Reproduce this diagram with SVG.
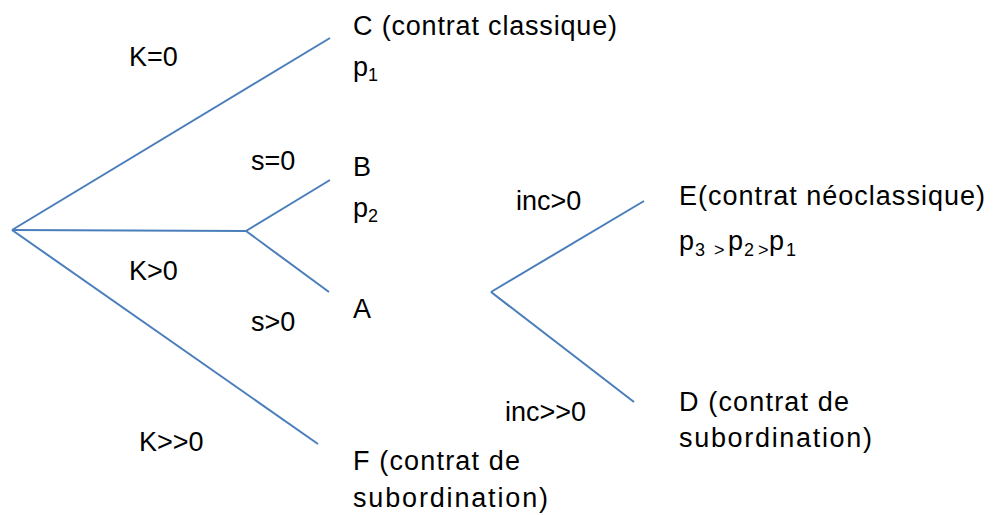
<svg xmlns="http://www.w3.org/2000/svg" width="995" height="515" viewBox="0 0 995 515">
<style>
.e{stroke:#4a7ebb;stroke-width:2;fill:none}
text{font-family:"Liberation Sans",Arial,sans-serif;font-size:27px;fill:#000}
.s{font-size:18px}
</style>
<rect width="995" height="515" fill="#fff"/>
<g id="connectors">
<line class="e" x1="12" y1="230" x2="330" y2="38"/>
<line class="e" x1="12" y1="230" x2="246" y2="231"/>
<line class="e" x1="246" y1="231" x2="330" y2="180"/>
<line class="e" x1="246" y1="231" x2="329" y2="292"/>
<line class="e" x1="12" y1="230" x2="318" y2="444"/>
<line class="e" x1="491" y1="292" x2="644" y2="201"/>
<line class="e" x1="491" y1="292" x2="634" y2="402"/>
</g>
<g id="labels">
<text x="129" y="66">K=0</text>
<text x="251" y="170">s=0</text>
<text x="129" y="280">K&gt;0</text>
<text x="251" y="331">s&gt;0</text>
<text x="139" y="451">K&gt;&gt;0</text>
<text x="516" y="210">inc&gt;0</text>
<text x="505" y="421">inc&gt;&gt;0</text>
</g>
<g id="node-C">
<text x="353" y="35" textLength="264">C (contrat classique)</text>
<text x="353" y="76">p<tspan class="s" dy="5">1</tspan></text>
</g>
<g id="node-B">
<text x="353" y="176">B</text>
<text x="353" y="217">p<tspan class="s" dy="5">2</tspan></text>
</g>
<g id="node-A">
<text x="353" y="318">A</text>
</g>
<g id="node-F">
<text x="353" y="470" textLength="167">F (contrat de</text>
<text x="353" y="507" textLength="195">subordination)</text>
</g>
<g id="node-E">
<text x="679" y="205" textLength="306">E(contrat néoclassique)</text>
<text x="679" y="250">p<tspan class="s" x="695" dy="6">3</tspan><tspan class="s" x="714" dy="0">&gt;</tspan><tspan x="728" dy="-6">p</tspan><tspan class="s" x="744" dy="6">2</tspan><tspan class="s" x="758" dy="0">&gt;</tspan><tspan x="769" dy="-6">p</tspan><tspan class="s" x="786" dy="6">1</tspan></text>
</g>
<g id="node-D">
<text x="679" y="411" textLength="170">D (contrat de</text>
<text x="679" y="447" textLength="193">subordination)</text>
</g>
</svg>
